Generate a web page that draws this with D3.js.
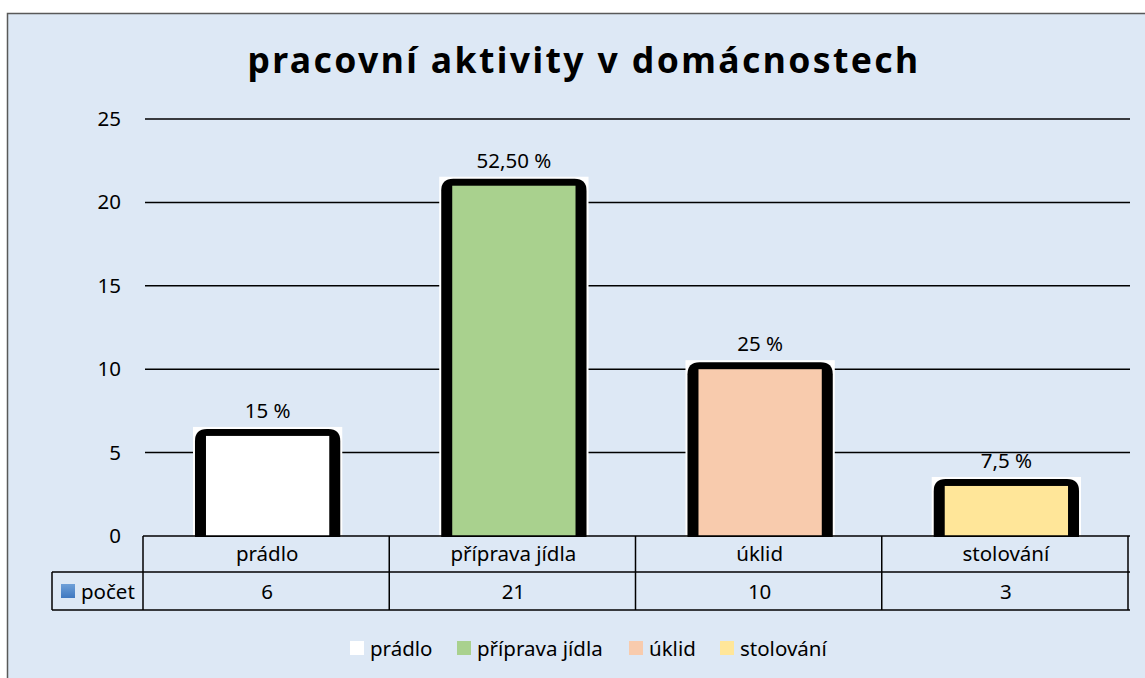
<!DOCTYPE html>
<meta charset="utf-8">
<script src="https://d3js.org/d3.v7.min.js"></script>
<style>
  body { margin: 0; background: #fff; }
  text { font-family: "Noto Sans", "Open Sans", sans-serif; fill: #000; }
</style>
<div id="chart"></div>
<script>
  // data
  var categories = ["prádlo", "příprava jídla", "úklid", "stolování"];
  var counts = [6, 21, 10, 3];
  var percentLabels = ["15 %", "52,50 %", "25 %", "7,5 %"];
  var colors = ["#ffffff", "#a9d18e", "#f8cbad", "#ffe699"];
  var yTicks = [0, 5, 10, 15, 20, 25];
  var seriesName = "počet";
  var title = "pracovní aktivity v domácnostech";

  var W = 1145, H = 678;
  var plot = {left: 145, right: 1130, top: 119, bottom: 536};
  var fs = "20.5px";

  var svg = d3.select("#chart").append("svg")
    .attr("width", W).attr("height", H);

  // chart area with border (runs off the right/bottom edge)
  svg.append("rect")
    .attr("x", 7.5).attr("y", 13.5)
    .attr("width", 1150).attr("height", 700)
    .attr("fill", "#dde8f5")
    .attr("stroke", "#595959").attr("stroke-width", 1.5);

  svg.append("text")
    .attr("x", 584).attr("y", 73)
    .attr("text-anchor", "middle")
    .style("font-size", "35.5px").style("font-weight", "bold")
    .style("letter-spacing", "2.4px")
    .text(title);

  var x = d3.scaleBand().domain(categories)
    .range([plot.left, plot.right]).paddingInner(0).paddingOuter(0);
  var y = d3.scaleLinear().domain([0, 25]).range([plot.bottom, plot.top]);

  // gridlines
  svg.append("g").selectAll("line")
    .data(yTicks.filter(function(d) { return d > 0; }))
    .enter().append("line")
      .attr("x1", plot.left).attr("x2", plot.right)
      .attr("y1", function(d) { return y(d); })
      .attr("y2", function(d) { return y(d); })
      .attr("stroke", "#000").attr("stroke-width", 1.5);

  // y axis labels
  svg.append("g").selectAll("text")
    .data(yTicks).enter().append("text")
      .attr("x", 121)
      .attr("y", function(d) { return y(d) + 7; })
      .attr("text-anchor", "end")
      .style("font-size", fs)
      .text(function(d) { return d; });

  // bars
  var barW = x.bandwidth() * 0.59;
  var bars = svg.append("g").selectAll("g")
    .data(categories).enter().append("g")
    .attr("transform", function(d) {
      return "translate(" + (x(d) + x.bandwidth() / 2 - barW / 2 - 0.5) + ",0)";
    });

  function roundTop(x0, y0, w, h, r) {
    return "M" + x0 + "," + (y0 + h) +
      "V" + (y0 + r) +
      "Q" + x0 + "," + y0 + " " + (x0 + r) + "," + y0 +
      "H" + (x0 + w - r) +
      "Q" + (x0 + w) + "," + y0 + " " + (x0 + w) + "," + (y0 + r) +
      "V" + (y0 + h) + "Z";
  }

  bars.each(function(d, i) {
    var g = d3.select(this);
    var top = y(counts[i]);
    // white glow behind
    g.append("rect")
      .attr("x", -2).attr("y", top - 9)
      .attr("width", barW + 4).attr("height", plot.bottom - top + 10)
      .attr("fill", "#fff");
    // black outline
    g.append("path")
      .attr("d", roundTop(0, top - 7, barW, plot.bottom - top + 8, 12))
      .attr("fill", "#000");
    // fill
    g.append("rect")
      .attr("x", 11).attr("y", top)
      .attr("width", barW - 22).attr("height", plot.bottom - top)
      .attr("fill", colors[i]);
    // value label
    g.append("text")
      .attr("x", barW / 2).attr("y", top - 18)
      .attr("text-anchor", "middle")
      .style("font-size", fs)
      .text(percentLabels[i]);
  });

  // data table
  var rowTop = plot.bottom, row1 = 572, row2 = 610, legCellX = 52;
  var tbl = svg.append("g").attr("stroke", "#000").attr("stroke-width", 1.5);
  tbl.append("line").attr("x1", x.range()[0] - 2).attr("x2", plot.right)
    .attr("y1", rowTop).attr("y2", rowTop);
  tbl.append("line").attr("x1", legCellX).attr("x2", plot.right)
    .attr("y1", row1).attr("y2", row1);
  tbl.append("line").attr("x1", legCellX).attr("x2", plot.right)
    .attr("y1", row2).attr("y2", row2);
  tbl.append("line").attr("x1", legCellX).attr("x2", legCellX)
    .attr("y1", row1).attr("y2", row2);
  tbl.selectAll("line.v")
    .data(categories.map(function(d) { return x(d); }).concat([plot.right]))
    .enter().append("line")
      .attr("x1", function(d) { return d - 2; }).attr("x2", function(d) { return d - 2; })
      .attr("y1", rowTop).attr("y2", row2);

  svg.append("g").selectAll("text")
    .data(categories).enter().append("text")
      .attr("x", function(d) { return x(d) + x.bandwidth() / 2 - 1; })
      .attr("y", 561)
      .attr("text-anchor", "middle")
      .style("font-size", fs)
      .text(function(d) { return d; });

  svg.append("g").selectAll("text")
    .data(counts).enter().append("text")
      .attr("x", function(d, i) { return x(categories[i]) + x.bandwidth() / 2 - 1; })
      .attr("y", 599)
      .attr("text-anchor", "middle")
      .style("font-size", fs)
      .text(function(d) { return d; });

  var grad = svg.append("defs").append("linearGradient")
    .attr("id", "blue").attr("x1", 0).attr("y1", 0).attr("x2", 0).attr("y2", 1);
  grad.append("stop").attr("offset", 0).attr("stop-color", "#6fa0d8");
  grad.append("stop").attr("offset", 1).attr("stop-color", "#3f78c0");
  svg.append("rect").attr("x", 61).attr("y", 584)
    .attr("width", 14).attr("height", 14).attr("fill", "url(#blue)");
  svg.append("text").attr("x", 81).attr("y", 599)
    .style("font-size", fs).text(seriesName);

  // legend
  var legX = [350, 457, 629, 720];
  var leg = svg.append("g").selectAll("g")
    .data(categories).enter().append("g")
    .attr("transform", function(d, i) { return "translate(" + legX[i] + ",641)"; });
  leg.append("rect").attr("width", 14).attr("height", 14)
    .attr("fill", function(d, i) { return colors[i]; });
  leg.append("text").attr("x", 20).attr("y", 15)
    .style("font-size", fs)
    .text(function(d) { return d; });
</script>
